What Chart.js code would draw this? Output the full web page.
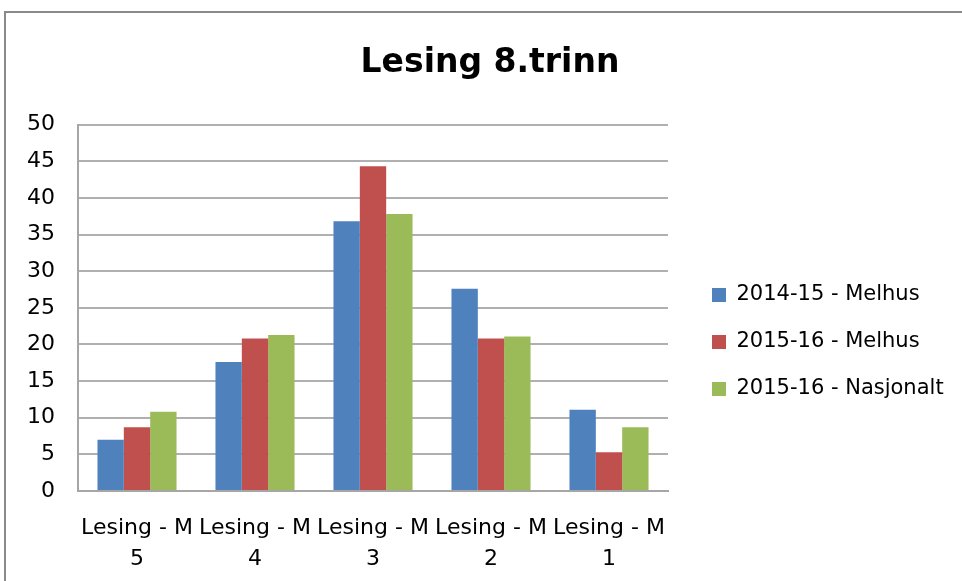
<!DOCTYPE html>
<html>
<head>
<meta charset="utf-8">
<script src="https://cdn.jsdelivr.net/npm/chart.js@4.4.1/dist/chart.umd.min.js"></script>
<style>
  html, body { margin: 0; padding: 0; background: #fff; overflow: hidden; }
  #frame { position: absolute; left: 4px; top: 11px; width: 1000px; height: 1000px; border: 2px solid #8a8a8a; }
  #wrap { position: absolute; left: 0; top: 0; width: 962px; height: 581px; }
</style>
</head>
<body>
<div id="frame"></div>
<div id="wrap"><canvas id="chart"></canvas></div>
<script>
const categories = [
  ["Lesing - M", "5"],
  ["Lesing - M", "4"],
  ["Lesing - M", "3"],
  ["Lesing - M", "2"],
  ["Lesing - M", "1"]
];
const melhus1415 = [7.0, 17.6, 36.8, 27.6, 11.1];
const melhus1516 = [8.7, 20.8, 44.3, 20.8, 5.3];
const nasjonalt1516 = [10.8, 21.3, 37.8, 21.1, 8.7];
const seriesNames = ["2014-15 - Melhus", "2015-16 - Melhus", "2015-16 - Nasjonalt"];

const FONT = "'DejaVu Sans', sans-serif";

// legend takes the whole strip right of the plot, then gets nudged into place
const legendSpot = {
  id: 'legendSpot',
  afterInit(chart) {
    const lg = chart.legend;
    const fit = lg.fit;
    lg.fit = function () {
      fit.call(this);
      this.width = chart.width - 668;
    };
  },
  afterLayout(chart) {
    const lg = chart.legend;
    const dx = 712 - 26 - lg.left;
    lg.left += dx;
    lg.right += dx;
    const dy = 342 - (lg.top + lg.bottom) / 2;
    lg.top += dy;
    lg.bottom += dy;
  }
};

new Chart(document.getElementById("chart"), {
  type: "bar",
  data: {
    labels: categories,
    datasets: [
      { label: seriesNames[0], data: melhus1415, backgroundColor: "#4F81BD" },
      { label: seriesNames[1], data: melhus1516, backgroundColor: "#C0504D" },
      { label: seriesNames[2], data: nasjonalt1516, backgroundColor: "#9BBB59" }
    ]
  },
  options: {
    responsive: true,
    maintainAspectRatio: false,
    animation: false,
    devicePixelRatio: 1,
    layout: { padding: { left: 18, right: 0, top: 0, bottom: 0 } },
    datasets: { bar: { barPercentage: 1, categoryPercentage: 0.67 } },
    plugins: {
      title: {
        display: true,
        text: "Lesing 8.trinn",
        color: "#000",
        font: { family: FONT, size: 33, weight: "bold" },
        padding: { top: 44, bottom: 41 }
      },
      legend: {
        position: "right",
        fullSize: false,
        labels: {
          color: "#000",
          font: { family: FONT, size: 21 },
          boxWidth: 14,
          boxHeight: 14,
          padding: 26
        }
      },
      tooltip: { enabled: false }
    },
    scales: {
      x: {
        grid: { display: false },
        border: { display: true, color: "#a6a6a6", width: 2 },
        ticks: {
          color: "#000",
          font: { family: FONT, size: 22, lineHeight: 1.41 },
          padding: 14,
          maxRotation: 0,
          autoSkip: false
        },
        afterFit(scale) { scale.height = 90; }
      },
      y: {
        min: 0,
        max: 50,
        grid: { color: "#b0b0b0", lineWidth: 2, drawTicks: false },
        border: { display: true, color: "#a6a6a6", width: 2 },
        ticks: {
          stepSize: 5,
          color: "#000",
          font: { family: FONT, size: 22 },
          padding: 23
        },
        afterFit(scale) { scale.width = 60; }
      }
    }
  },
  plugins: [legendSpot]
});
</script>
</body>
</html>
